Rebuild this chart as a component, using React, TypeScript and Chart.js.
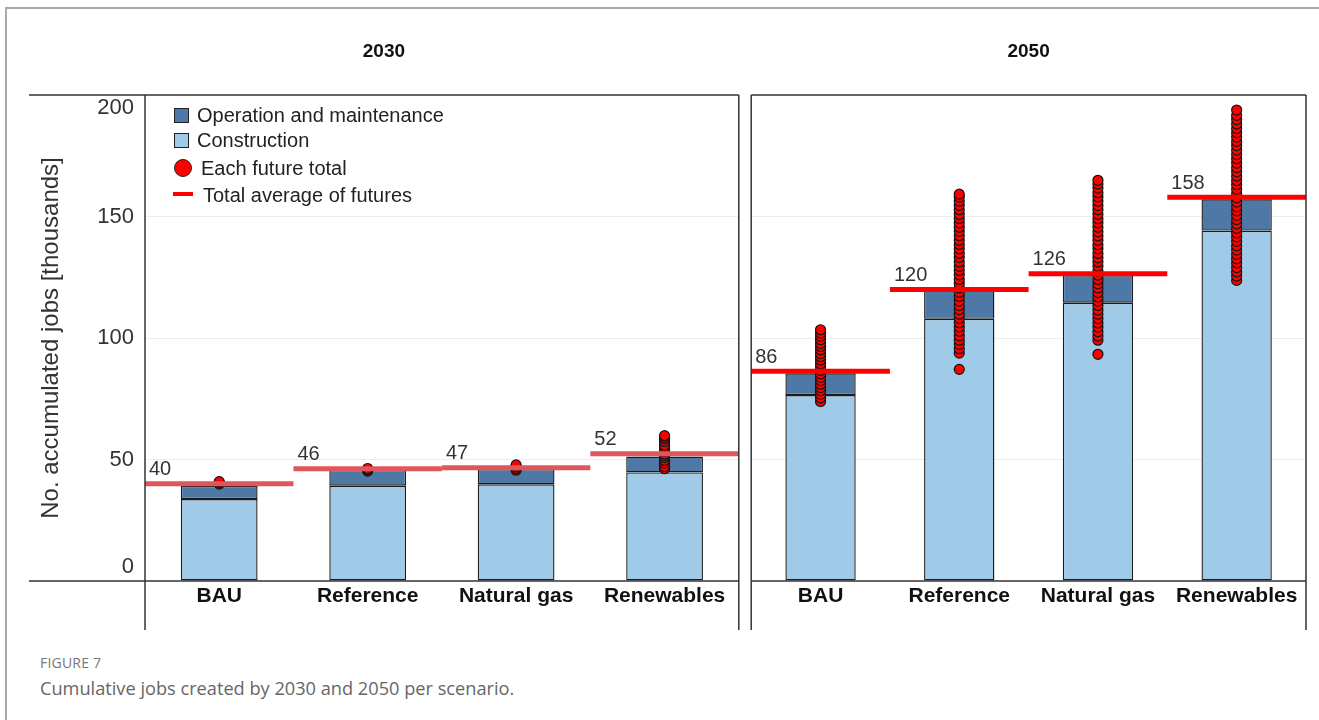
import React, { useEffect, useRef } from 'react';
import { Chart, registerables } from 'chart.js';

Chart.register(...registerables);

// ---------- data ----------
const categories = ['BAU', 'Reference', 'Natural gas', 'Renewables'];
const yTickValues = [0, 50, 100, 150, 200];
const legendLabels = ['Operation and maintenance', 'Construction', 'Each future total', 'Total average of futures'];
const yAxisTitle = 'No. accumulated jobs [thousands]';
const figureLabel = 'FIGURE 7';
const figureCaption = 'Cumulative jobs created by 2030 and 2050 per scenario.';

const construction2030 = [33.7, 39.2, 39.8, 44.7];
const operation2030 = [5.5, 6.5, 6.3, 6.5];
const average2030 = [40.0, 46.2, 46.6, 52.4];
const futuresBAU2030 = [39.9, 40.4, 40.9];
const futuresReference2030 = [45.2, 45.7, 46.3];
const futuresNaturalGas2030 = [45.6, 46.3, 47.0, 47.8];
const futuresRenewables2030 = [46.2, 47.1, 48.5, 49.6, 50.8, 51.6, 52.3, 53.4, 54.1, 55.2, 56.0, 57.3, 58.4, 59.1, 59.8];

const construction2050 = [76.5, 107.9, 114.5, 144.2];
const operation2050 = [9.0, 11.6, 11.4, 12.9];
const average2050 = [86.3, 120.0, 126.4, 157.9];
const futuresBAU2050 = [73.9, 75.4, 76.8, 78.3, 79.6, 81.0, 82.5, 83.8, 85.2, 86.7, 88.1, 89.4, 90.9, 92.3, 93.6, 95.1, 96.5, 97.8, 99.3, 100.7, 102.0, 103.4];
const futuresReference2050 = [87.1, 93.8, 95.6, 97.4, 99.1, 100.9, 102.8, 104.5, 106.3, 108.1, 109.8, 111.7, 113.4, 115.2, 117.1, 118.8, 120.6, 122.4, 124.1, 126.0, 127.8, 129.5, 131.3, 133.2, 134.9, 136.7, 138.5, 140.2, 142.1, 143.9, 145.6, 147.4, 149.2, 150.9, 152.8, 154.6, 156.3, 158.0, 159.2];
const futuresNaturalGas2050 = [93.3, 99.1, 100.8, 102.6, 104.5, 106.2, 108.0, 109.8, 111.5, 113.4, 115.2, 116.9, 118.7, 120.6, 122.3, 124.1, 125.9, 127.6, 129.5, 131.3, 133.0, 134.8, 136.7, 138.4, 140.2, 142.0, 143.7, 145.6, 147.4, 149.1, 150.9, 152.8, 154.5, 156.3, 158.1, 159.8, 161.7, 163.4, 164.9];
const futuresRenewables2050 = [123.7, 125.5, 127.2, 129.0, 130.9, 132.6, 134.4, 136.2, 137.9, 139.8, 141.6, 143.3, 145.1, 147.0, 148.7, 150.5, 152.3, 154.0, 155.9, 157.7, 159.4, 161.2, 163.1, 164.8, 166.6, 168.4, 170.1, 172.0, 173.8, 175.5, 177.3, 179.2, 180.9, 182.7, 184.5, 186.2, 188.1, 189.9, 191.6, 193.8];

// ---------- styles ----------
const FONT = '"Liberation Sans", Arial, Helvetica, sans-serif';
const COLOR_OM = '#4E79A7';
const COLOR_CONSTRUCTION = '#A0CBE8';
const COLOR_DOT = '#FF0000';
const COLOR_FRAME = '#333333';
const COLOR_TEXT = '#222222';

type Panel = {
  year: string;
  construction: number[];
  operation: number[];
  average: number[];
  futures: number[][];
  avgColor: string;
  first: boolean;
  barPct: number;
};

const panels: Panel[] = [
  {
    year: '2030',
    construction: construction2030,
    operation: operation2030,
    average: average2030,
    futures: [futuresBAU2030, futuresReference2030, futuresNaturalGas2030, futuresRenewables2030],
    avgColor: '#E0575B',
    first: true,
    barPct: 0.517,
  },
  {
    year: '2050',
    construction: construction2050,
    operation: operation2050,
    average: average2050,
    futures: [futuresBAU2050, futuresReference2050, futuresNaturalGas2050, futuresRenewables2050],
    avgColor: '#FF0000',
    first: false,
    barPct: 0.507,
  },
];

function buildChart(canvas: HTMLCanvasElement, panel: Panel) {
  const dots: { x: string; y: number }[] = [];
  panel.futures.forEach((arr, i) => arr.forEach((v) => dots.push({ x: categories[i], y: v })));
  const ext = panel.first ? 116 : 0;

  const decor = {
    id: 'decor' + panel.year,
    afterDatasetsDraw(chart: any) {
      const { ctx, chartArea: ca, scales } = chart;
      const x = scales.x;
      const y = scales.y;
      const half = (x.getPixelForValue(1) - x.getPixelForValue(0)) / 2;
      ctx.save();
      panel.average.forEach((v: number, i: number) => {
        const cx = x.getPixelForValue(i);
        const py = y.getPixelForValue(v);
        ctx.strokeStyle = panel.avgColor;
        ctx.lineWidth = 5;
        ctx.lineCap = 'butt';
        ctx.beginPath();
        ctx.moveTo(cx - half, py);
        ctx.lineTo(Math.min(cx + half, ca.right), py);
        ctx.stroke();
        ctx.fillStyle = '#333';
        ctx.font = `20px ${FONT}`;
        ctx.textAlign = 'left';
        ctx.textBaseline = 'middle';
        ctx.fillText(String(Math.round(v)), cx - half + 4, py - 14);
      });
      ctx.restore();
    },
    afterDraw(chart: any) {
      const { ctx, chartArea: ca, scales } = chart;
      const y = scales.y;
      ctx.save();
      // frame
      ctx.strokeStyle = COLOR_FRAME;
      ctx.lineWidth = 1.5;
      const seg = (x1: number, y1: number, x2: number, y2: number) => {
        ctx.beginPath();
        ctx.moveTo(x1, y1);
        ctx.lineTo(x2, y2);
        ctx.stroke();
      };
      seg(ca.left - ext, ca.top, ca.right, ca.top);
      seg(ca.left - ext, ca.bottom, ca.right, ca.bottom);
      seg(ca.left, ca.top, ca.left, ca.bottom + 49);
      seg(ca.right, ca.top, ca.right, ca.bottom + 49);
      // panel title
      ctx.fillStyle = '#111';
      ctx.font = `bold 19px ${FONT}`;
      ctx.textAlign = 'center';
      ctx.textBaseline = 'middle';
      ctx.fillText(panel.year, (ca.left - ext + ca.right) / 2, 52);

      if (panel.first) {
        // y tick labels (clamped inside the panel like the original)
        ctx.fillStyle = '#333';
        ctx.font = `22px ${FONT}`;
        ctx.textAlign = 'right';
        ctx.textBaseline = 'middle';
        yTickValues.forEach((v) => {
          const py = Math.max(ca.top + 12.5, Math.min(ca.bottom - 14, y.getPixelForValue(v)));
          ctx.fillText(String(v), ca.left - 11, py);
        });
        // legend
        const lx = ca.left;
        const ly = ca.top;
        ctx.lineWidth = 1;
        ctx.strokeStyle = '#222';
        ctx.fillStyle = COLOR_OM;
        ctx.fillRect(lx + 29, ly + 13, 15, 15);
        ctx.strokeRect(lx + 29.5, ly + 13.5, 14, 14);
        ctx.fillStyle = COLOR_CONSTRUCTION;
        ctx.fillRect(lx + 29, ly + 38, 15, 15);
        ctx.strokeRect(lx + 29.5, ly + 38.5, 14, 14);
        ctx.fillStyle = COLOR_DOT;
        ctx.beginPath();
        ctx.arc(lx + 38, ly + 73, 8.5, 0, Math.PI * 2);
        ctx.fill();
        ctx.stroke();
        ctx.fillStyle = COLOR_DOT;
        ctx.fillRect(lx + 28, ly + 97, 20, 4);
        ctx.fillStyle = COLOR_TEXT;
        ctx.font = `20px ${FONT}`;
        ctx.textAlign = 'left';
        ctx.textBaseline = 'alphabetic';
        ctx.fillText(legendLabels[0], lx + 52, ly + 27);
        ctx.fillText(legendLabels[1], lx + 52, ly + 52);
        ctx.fillText(legendLabels[2], lx + 56, ly + 80);
        ctx.fillText(legendLabels[3], lx + 58, ly + 107);
      }
      ctx.restore();
    },
  };

  const barStyle = {
    borderColor: '#1c1c1c',
    borderWidth: 1.4,
    borderSkipped: false,
    stack: 'jobs',
    barPercentage: panel.barPct,
    categoryPercentage: 1,
  };

  return new Chart(canvas, {
    type: 'bar',
    data: {
      labels: categories,
      datasets: [
        {
          type: 'line',
          label: legendLabels[2],
          data: dots as any,
          showLine: false,
          pointRadius: 5,
          pointBackgroundColor: COLOR_DOT,
          pointBorderColor: '#141414',
          pointBorderWidth: 1.2,
          stack: 'futures',
        } as any,
        {
          type: 'bar',
          label: legendLabels[1],
          data: panel.construction,
          backgroundColor: COLOR_CONSTRUCTION,
          ...barStyle,
        },
        {
          type: 'bar',
          label: legendLabels[0],
          data: panel.operation,
          backgroundColor: COLOR_OM,
          ...barStyle,
        },
      ],
    },
    options: {
      responsive: false,
      animation: false,
      events: [],
      layout: {
        padding: panel.first
          ? { top: 95, right: 5, bottom: 10, left: 0 }
          : { top: 95, right: 13, bottom: 10, left: 6 },
      },
      plugins: {
        legend: { display: false },
        tooltip: { enabled: false },
        title: { display: false },
      },
      scales: {
        x: {
          type: 'category',
          stacked: true,
          offset: true,
          grid: { display: false, drawTicks: false },
          border: { display: false },
          ticks: {
            font: { family: FONT, size: 21, weight: 'bold' },
            color: '#111',
            padding: 3,
            maxRotation: 0,
            autoSkip: false,
          },
          afterFit: (s: any) => {
            s.height = 49;
          },
        },
        y: {
          type: 'linear',
          stacked: true,
          min: 0,
          max: 200,
          ticks: { display: false, stepSize: 50 },
          grid: {
            drawTicks: false,
            lineWidth: 1,
            color: (c: any) => (c.tick && c.tick.value > 0 && c.tick.value < 200 ? '#ECECEC' : 'rgba(0,0,0,0)'),
          },
          border: { display: false },
          title: panel.first
            ? {
                display: true,
                text: yAxisTitle,
                font: { family: FONT, size: 24 },
                color: '#333',
                padding: { top: 37, bottom: 0 },
              }
            : { display: false },
          afterFit: (s: any) => {
            s.width = panel.first ? 145 : 0;
          },
        },
      },
    } as any,
    plugins: [decor],
  });
}

export default function App() {
  const c1 = useRef<HTMLCanvasElement | null>(null);
  const c2 = useRef<HTMLCanvasElement | null>(null);

  useEffect(() => {
    const charts: Chart[] = [];
    if (c1.current) charts.push(buildChart(c1.current, panels[0]));
    if (c2.current) charts.push(buildChart(c2.current, panels[1]));
    return () => charts.forEach((c) => c.destroy());
  }, []);

  return (
    <div style={{ position: 'absolute', left: 0, top: 0, width: 1319, height: 720, overflow: 'hidden', background: '#fff' }}>
      <div
        style={{
          position: 'absolute',
          left: 5,
          top: 7,
          width: 1314,
          height: 713,
          borderLeft: '2px solid #A9A9A9',
          borderTop: '2px solid #A9A9A9',
          boxSizing: 'border-box',
        }}
      />
      <canvas ref={c1} width={745} height={640} style={{ position: 'absolute', left: 0, top: 0 }} />
      <canvas ref={c2} width={574} height={640} style={{ position: 'absolute', left: 745, top: 0 }} />
      <div
        style={{
          position: 'absolute',
          left: 40,
          top: 655,
          fontFamily: '"Open Sans", sans-serif',
          fontSize: 14,
          lineHeight: '16px',
          color: '#777',
          letterSpacing: 0.2,
        }}
      >
        {figureLabel}
      </div>
      <div
        style={{
          position: 'absolute',
          left: 40,
          top: 677,
          fontFamily: '"Open Sans", sans-serif',
          fontSize: 18.2,
          lineHeight: '22px',
          color: '#666',
          whiteSpace: 'nowrap',
        }}
      >
        {figureCaption}
      </div>
    </div>
  );
}
